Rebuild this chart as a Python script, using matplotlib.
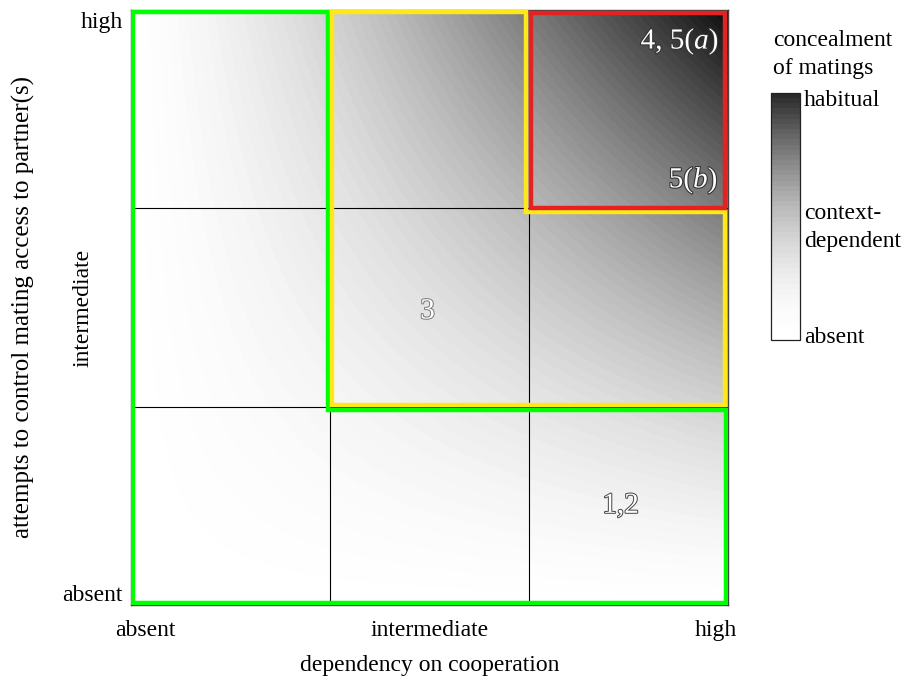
import numpy as np
import matplotlib
matplotlib.use("Agg")
import matplotlib.pyplot as plt
from matplotlib.colors import LinearSegmentedColormap
from matplotlib import patheffects as pe
import matplotlib as mpl

plt.rcParams['font.family'] = ['Liberation Serif', 'DejaVu Serif']
plt.rcParams['mathtext.fontset'] = 'custom'
plt.rcParams['mathtext.rm'] = 'Liberation Serif'
plt.rcParams['mathtext.it'] = 'Liberation Serif:italic'

# ---- data ----
x_levels = ["absent", "intermediate", "high"]
y_levels = ["absent", "intermediate", "high"]
x_title = "dependency on cooperation"
y_title = "attempts to control mating access to partner(s)"
# concealment level at cell corners (rows: y = absent..high, cols: x = absent..high)
conceal = [[0.00, 0.00, 0.00, 0.00],
           [0.00, 0.11, 0.22, 0.33],
           [0.00, 0.22, 0.44, 0.67],
           [0.00, 0.33, 0.67, 1.00]]
cbar_labels = ["absent", "context-\ndependent", "habitual"]
cbar_title = "concealment\nof matings"
region_labels = ["4, 5($a$)", "5($b$)", "3", "1,2"]

FS = 17

fig = plt.figure(figsize=(9.09, 6.79), dpi=100)
ax = fig.add_axes([0.1441, 0.109, 0.6568, 0.8763])

cmap = LinearSegmentedColormap.from_list('conceal', ['#ffffff', '#0e0e0e'], N=64, gamma=1.5)
ax.imshow(np.array(conceal), origin='lower', extent=(-0.5, 3.5, -0.5, 3.5),
          cmap=cmap, vmin=0, vmax=1, interpolation='bilinear', aspect='auto', zorder=0)
ax.set_xlim(0, 3)
ax.set_ylim(0, 3)

for v in (1, 2):
    ax.axvline(v, color='black', lw=0.8, zorder=1)
    ax.axhline(v, color='black', lw=0.8, zorder=1)

# outlines
green = [(0.012, 2.99), (0.988, 2.99), (0.988, 0.985), (2.988, 0.985), (2.988, 0.012), (0.012, 0.012), (0.012, 2.99)]
yellow = [(1.008, 2.99), (1.985, 2.99), (1.985, 1.983), (2.985, 1.983), (2.985, 1.008), (1.008, 1.008), (1.008, 2.99)]
red = [(2.008, 2.985), (2.985, 2.985), (2.985, 2.0), (2.008, 2.0), (2.008, 2.985)]
for poly, col in ((green, '#00ff00'), (yellow, '#ffe81a'), (red, '#e42222')):
    xs, ys = zip(*poly)
    ax.plot(xs, ys, color=col, lw=3.2, solid_joinstyle='miter', solid_capstyle='projecting', zorder=3)

fx = [pe.withStroke(linewidth=1.6, foreground='#333333')]
ax.text(2.955, 2.84, region_labels[0], color='white', fontsize=21, ha='right', va='center', path_effects=fx, zorder=4)
ax.text(2.95, 2.14, region_labels[1], color='white', fontsize=21, ha='right', va='center', path_effects=fx, zorder=4)
fx2 = [pe.withStroke(linewidth=1.4, foreground='#777777')]
ax.text(1.49, 1.48, region_labels[2], color='white', fontsize=21, ha='center', va='center', path_effects=fx2, zorder=4)
fx3 = [pe.withStroke(linewidth=1.4, foreground='#444444')]
ax.text(2.46, 0.50, region_labels[3], color='white', fontsize=21, ha='center', va='center', path_effects=fx3, zorder=4)

for s in ax.spines.values():
    s.set_color('#444444')
    s.set_linewidth(1.0)

ax.set_xticks([0.07, 1.5, 2.94])
ax.set_xticklabels(x_levels, fontsize=FS)
ax.set_yticks([0.06, 2.95])
ax.set_yticklabels([y_levels[0], y_levels[2]], fontsize=FS)
ax.tick_params(axis='y', length=0, pad=6)
ax.tick_params(axis='x', length=0, pad=11)
ax.text(-0.080, 0.5, y_levels[1], transform=ax.transAxes, rotation=90,
        ha='center', va='center', fontsize=FS)
ax.set_xlabel(x_title, fontsize=FS, labelpad=10)
ax.set_ylabel(y_title, fontsize=18, labelpad=0)
ax.yaxis.set_label_coords(-0.160, 0.5)

# colorbar
cax = fig.add_axes([0.848, 0.499, 0.032, 0.364])
cmap_bar = LinearSegmentedColormap.from_list('concealbar', ['#ffffff', '#2a2a2a'], N=48, gamma=1.8)
cb = mpl.colorbar.ColorbarBase(cax, cmap=cmap_bar, norm=mpl.colors.Normalize(0, 1), orientation='vertical')
cb.outline.set_linewidth(0.9)
cb.outline.set_edgecolor('#222222')
cb.set_ticks([0.02, 0.48, 0.98])
cb.set_ticklabels(cbar_labels)
cax.tick_params(length=0, labelsize=FS, pad=3)
for t in cax.get_yticklabels():
    t.set_linespacing(1.45)
fig.text(773 / 909, 1 - 30 / 679, cbar_title, fontsize=FS, ha='left', va='top', linespacing=1.45)

fig.savefig('out.png', dpi=100)
